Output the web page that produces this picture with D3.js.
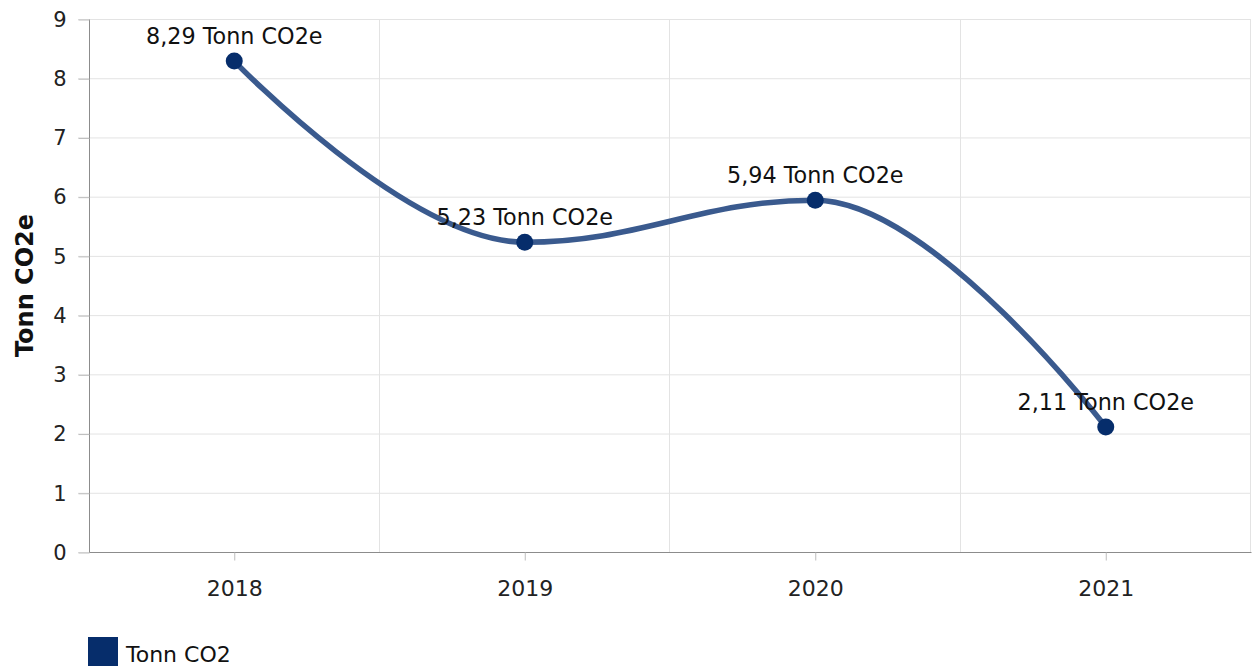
<!DOCTYPE html>
<html>
<head>
<meta charset="utf-8">
<script src="https://cdn.jsdelivr.net/npm/d3@7"></script>
<style>
  body { margin: 0; background: #fff; }
  svg { display: block; font-family: "DejaVu Sans", Verdana, sans-serif; }
</style>
</head>
<body>
<div id="chart"></div>
<script>
// Data
const years = ['2018', '2019', '2020', '2021'];
const values = [8.29, 5.23, 5.94, 2.11];
const yTicks = [0, 1, 2, 3, 4, 5, 6, 7, 8, 9];
const seriesName = 'Tonn CO2';
const yTitle = 'Tonn CO2e';
const unit = 'Tonn CO2e';

const width = 1253, height = 666;
const margin = { top: 19, right: 2, bottom: 114, left: 89 };
const font = '"DejaVu Sans", Verdana, sans-serif';

const svg = d3.select('#chart').append('svg')
  .attr('width', width)
  .attr('height', height);

const x = d3.scaleBand()
  .domain(years)
  .range([margin.left, width - margin.right])
  .padding(0);

const y = d3.scaleLinear()
  .domain([0, 9])
  .range([height - margin.bottom, margin.top]);

const cx = d => x(d) + x.bandwidth() / 2;

// Horizontal grid
svg.append('g')
  .selectAll('line')
  .data(yTicks)
  .join('line')
  .attr('x1', margin.left - 11)
  .attr('x2', width - margin.right)
  .attr('y1', d => y(d) + 0.5)
  .attr('y2', d => y(d) + 0.5)
  .attr('stroke', '#e3e3e3')
  .attr('stroke-width', 1);

// Vertical grid at band boundaries
const bounds = years.map(d => x(d)).concat([x.range()[1]]).slice(1);
svg.append('g')
  .selectAll('line')
  .data(bounds)
  .join('line')
  .attr('x1', d => Math.round(d) - 0.5)
  .attr('x2', d => Math.round(d) - 0.5)
  .attr('y1', y(9))
  .attr('y2', y(0))
  .attr('stroke', '#e3e3e3');

// Y axis
const yAxis = svg.append('g')
  .attr('transform', `translate(${margin.left + 0.5},0.5)`)
  .call(d3.axisLeft(y).tickValues(yTicks).tickSize(11).tickPadding(12).tickFormat(d3.format('d')));
yAxis.select('.domain').attr('stroke', '#8c8c8c').attr('d', `M0,${y(9)}V${y(0)}`);
yAxis.selectAll('.tick line').attr('stroke', '#bdbdbd');
yAxis.selectAll('.tick text')
  .attr('font-size', 21)
  .attr('fill', '#222')
  .attr('font-family', font);

// X axis
const xAxis = svg.append('g')
  .attr('transform', `translate(0.5,${y(0) + 0.5})`)
  .call(d3.axisBottom(x).tickSize(8).tickPadding(20));
xAxis.select('.domain').attr('stroke', '#8c8c8c').attr('d', `M${margin.left},0H${width - margin.right}`);
xAxis.selectAll('.tick line').attr('stroke', '#bdbdbd');
xAxis.selectAll('.tick text')
  .attr('font-size', 22)
  .attr('fill', '#222')
  .attr('font-family', font);

// Axis title
svg.append('text')
  .attr('transform', `translate(33,${(y(0) + y(9)) / 2}) rotate(-90)`)
  .attr('text-anchor', 'middle')
  .attr('font-size', 24)
  .attr('font-weight', 'bold')
  .attr('fill', '#111')
  .text(yTitle);

// Spline through the points (control points like a smoothed chart spline)
function splinePath(pts) {
  const s = 1.5, p = d3.path();
  const conts = pts.map((pt, i) => {
    if (i === 0 || i === pts.length - 1) return null;
    const [px, py] = pt, [lx, ly] = pts[i - 1], [nx, ny] = pts[i + 1];
    let lcx = (s * px + lx) / (s + 1), lcy = (s * py + ly) / (s + 1);
    let rcx = (s * px + nx) / (s + 1), rcy = (s * py + ny) / (s + 1);
    if (rcx !== lcx) {
      const corr = ((rcy - lcy) * (rcx - px)) / (rcx - lcx) + py - rcy;
      lcy += corr; rcy += corr;
    }
    if (lcy > ly && lcy > py) { lcy = Math.max(ly, py); rcy = 2 * py - lcy; }
    else if (lcy < ly && lcy < py) { lcy = Math.min(ly, py); rcy = 2 * py - lcy; }
    if (rcy > ny && rcy > py) { rcy = Math.max(ny, py); lcy = 2 * py - rcy; }
    else if (rcy < ny && rcy < py) { rcy = Math.min(ny, py); lcy = 2 * py - rcy; }
    return { l: [lcx, lcy], r: [rcx, rcy] };
  });
  p.moveTo(pts[0][0], pts[0][1]);
  for (let i = 1; i < pts.length; i++) {
    const c1 = conts[i - 1] ? conts[i - 1].r : pts[i - 1];
    const c2 = conts[i] ? conts[i].l : pts[i];
    p.bezierCurveTo(c1[0], c1[1], c2[0], c2[1], pts[i][0], pts[i][1]);
  }
  return p.toString();
}

const pts = years.map((d, i) => [cx(d), y(values[i])]);
svg.append('path')
  .attr('fill', 'none')
  .attr('stroke', '#3a5a8e')
  .attr('stroke-width', 5.5)
  .attr('stroke-linecap', 'round')
  .attr('d', splinePath(pts));

// Points
svg.append('g')
  .selectAll('circle')
  .data(pts)
  .join('circle')
  .attr('cx', d => d[0])
  .attr('cy', d => d[1])
  .attr('r', 8.5)
  .attr('fill', '#062d6b');

// Data labels
const fmt = v => d3.format('.2f')(v).replace('.', ',');
svg.append('g')
  .selectAll('text')
  .data(years)
  .join('text')
  .attr('x', d => cx(d))
  .attr('y', (d, i) => y(values[i]) - 17)
  .attr('text-anchor', 'middle')
  .attr('font-size', 22.3)
  .attr('fill', '#111')
  .attr('font-family', font)
  .text((d, i) => `${fmt(values[i])} ${unit}`);

// Legend
const legend = svg.append('g').attr('transform', 'translate(88,637)');
legend.append('rect')
  .attr('width', 30)
  .attr('height', 30)
  .attr('fill', '#062d6b');
legend.append('text')
  .attr('x', 38)
  .attr('y', 25)
  .attr('font-size', 22)
  .attr('fill', '#111')
  .attr('font-family', font)
  .text(seriesName);
</script>
</body>
</html>
